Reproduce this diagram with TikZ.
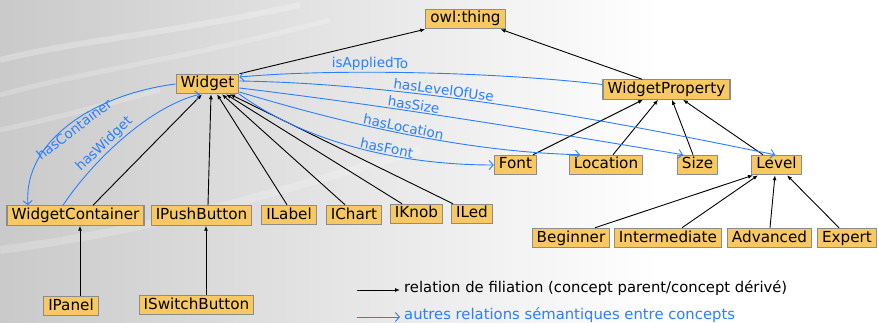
\documentclass[tikz,border=0pt]{standalone}
\usepackage{fontspec}
\setmainfont{DejaVu Sans}
\usetikzlibrary{arrows.meta}

\definecolor{conceptfill}{HTML}{F8C962}
\definecolor{conceptline}{HTML}{8C8C8C}
\definecolor{relblue}{HTML}{2A7FFF}

\tikzset{
  concept/.style={draw=conceptline, fill=conceptfill, line width=1.1pt,
    inner xsep=4.6pt, inner ysep=2.2pt, text height=11.5pt, text depth=3.5pt,
    font=\fontsize{15.2}{18}\selectfont},
  filiation/.style={-{Latex[length=5pt,width=4pt]}, line width=0.9pt, black},
  relation/.style={>={Straight Barb[length=4pt,width=9pt]}, line width=0.9pt, relblue},
  rellabel/.style={sloped, inner sep=1pt, text=relblue,
    font=\fontsize{13.6}{16}\selectfont},
  legendtext/.style={anchor=west, inner xsep=4pt, text height=11pt, text depth=3.3pt,
    font=\fontsize{14.8}{17}\selectfont},
}

\begin{document}
\begin{tikzpicture}[x=1pt,y=-1pt]
  \useasboundingbox (0,0) rectangle (878,323);
  % backdrop
  \fill[white] (0,0) rectangle (878,323);
  \shade[left color=black!21, right color=white] (0,0) rectangle (660,323);
  \draw[white, opacity=.25, line width=6pt] (0,60) .. controls (80,40) and (160,35) .. (300,5);
  \draw[white, opacity=.2, line width=5pt] (0,95) .. controls (90,70) and (180,60) .. (330,20);
  \draw[white, opacity=.2, line width=5pt] (0,130) .. controls (70,115) and (120,100) .. (160,90);
  \draw[white, opacity=.2, line width=8pt] (0,250) .. controls (150,230) and (250,200) .. (420,150);

  % concepts
  \node[concept] (owl) at (465.5,19) {owl:thing};
  \node[concept] (widget) at (207.5,84) {Widget};
  \node[concept] (wprop) at (666.5,89.5) {WidgetProperty};
  \node[concept] (font) at (515.5,165) {Font};
  \node[concept] (loc) at (606,165) {Location};
  \node[concept] (size) at (697.5,165) {Size};
  \node[concept] (level) at (776.5,165) {Level};
  \node[concept] (beginner) at (571,238) {Beginner};
  \node[concept] (inter) at (668,238) {Intermediate};
  \node[concept] (adv) at (769.5,238) {Advanced};
  \node[concept] (expert) at (847,238) {Expert};
  \node[concept] (wcont) at (75.5,215.5) {WidgetContainer};
  \node[concept] (push) at (201.5,215.5) {IPushButton};
  \node[concept] (ilabel) at (289,215) {ILabel};
  \node[concept] (chart) at (354,215) {IChart};
  \node[concept] (knob) at (416.5,214) {IKnob};
  \node[concept] (led) at (472,214) {ILed};
  \node[concept] (panel) at (71,306) {IPanel};
  \node[concept] (switch) at (196.5,305) {ISwitchButton};

  % parent/child links
  \draw[filiation] (widget.north east) -- (owl.south west);
  \draw[filiation] ([xshift=-24.5pt]wprop.north) -- ([xshift=35pt]owl.south);
  \draw[filiation] ([xshift=17.5pt]font.north) -- ([xshift=-23.5pt]wprop.south);
  \draw[filiation] ([xshift=7pt]loc.north) -- ([xshift=-8.5pt]wprop.south);
  \draw[filiation] ([xshift=-4.5pt]size.north) -- ([xshift=5.5pt]wprop.south);
  \draw[filiation] ([xshift=-13.5pt]level.north) -- ([xshift=16.5pt]wprop.south);
  \draw[filiation] ([xshift=24pt]beginner.north) -- ([xshift=-23.5pt]level.south);
  \draw[filiation] ([xshift=14pt]inter.north) -- ([xshift=-18.5pt]level.south);
  \draw[filiation] ([xshift=0.5pt]adv.north) -- ([xshift=-1.5pt]level.south);
  \draw[filiation] ([xshift=-8pt]expert.north) -- ([xshift=10.5pt]level.south);
  \draw[filiation] ([xshift=17.5pt]wcont.north) -- ([xshift=-5.5pt]widget.south);
  \draw[filiation] ([xshift=6.5pt]push.north) -- ([xshift=3.5pt]widget.south);
  \draw[filiation] ([xshift=-2pt]ilabel.north) -- ([xshift=9.5pt]widget.south);
  \draw[filiation] ([xshift=-9pt]chart.north) -- ([xshift=14.5pt]widget.south);
  \draw[filiation] ([xshift=-14.5pt]knob.north) -- ([xshift=18.5pt]widget.south);
  \draw[filiation] ([xshift=-19pt]led.north) -- ([xshift=22.5pt]widget.south);
  \draw[filiation] ([xshift=9pt]panel.north) -- ([xshift=4.5pt]wcont.south);
  \draw[filiation] ([xshift=9.5pt]switch.north) -- ([xshift=4.5pt]push.south);

  % semantic relations
  \draw[relation,<-] ([yshift=7pt]widget.east) .. controls +(100,-9) and +(-100,-12) .. ([yshift=5pt]wprop.west)
    node[rellabel, above, pos=0.37] {isAppliedTo};
  \draw[relation,->] ([yshift=3pt]widget.east) .. controls +(200,3) and +(-100,-20) .. ([xshift=-1.5pt]level.north)
    node[rellabel, above, pos=0.33] {hasLevelOfUse};
  \draw[relation,->] ([yshift=-4pt]widget.east) .. controls +(150,18) and +(-150,-25) .. ([xshift=-14.5pt]size.north)
    node[rellabel, above, pos=0.39] {hasSize};
  \draw[relation,->] ([yshift=-8pt]widget.east) .. controls +(100,30) and +(-120,-3) .. ([xshift=-26pt]loc.north)
    node[rellabel, above, pos=0.5] {hasLocation};
  \draw[relation,->] (widget.south east) .. controls +(70,50) and +(-90,0) .. (font.west)
    node[rellabel, above, pos=0.6] {hasFont};
  \draw[relation,<-] ([xshift=-47.5pt]wcont.north) .. controls +(-5,-65) and +(-80,10) .. (widget.west)
    node[rellabel, below, pos=0.5] {hasContainer};
  \draw[relation,->] ([xshift=-12.5pt]wcont.north) .. controls +(30,-45) and +(-50,12) .. ([xshift=-7.5pt]widget.south)
    node[rellabel, above, pos=0.4] {hasWidget};

  % legend
  \node[legendtext] (legfil) at (400,289) {relation de filiation (concept parent/concept dérivé)};
  \node[legendtext, text=relblue] (legrel) at (400,316) {autres relations sémantiques entre concepts};
  \coordinate (filstart) at (357,290);
  \coordinate (relstart) at (357,317);
  \draw[filiation] (filstart) -- (filstart -| legfil.west);
  \draw[relation,->] (relstart) -- (relstart -| legrel.west);
\end{tikzpicture}
\end{document}
